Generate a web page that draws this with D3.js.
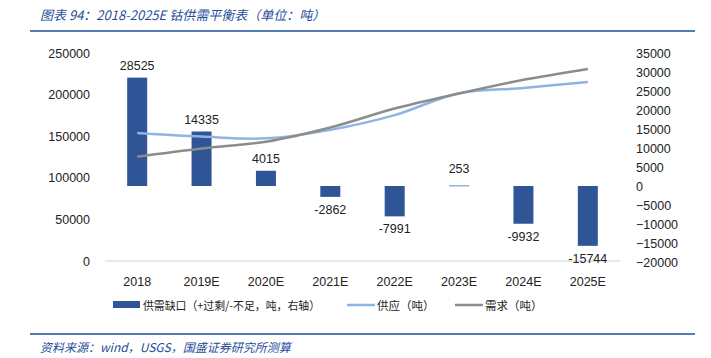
<!DOCTYPE html>
<html><head><meta charset="utf-8">
<script src="https://cdn.jsdelivr.net/npm/d3@7"></script>
<style>body{margin:0;background:#fff;} svg{display:block;}</style>
</head><body>
<svg id="c" width="711" height="358"></svg>
<script>
const categories = ["2018","2019E","2020E","2021E","2022E","2023E","2024E","2025E"];
const gapValues = [28525,14335,4015,-2862,-7991,253,-9932,-15744];
const supplyValues = [153800,149500,147400,157600,175300,201600,207900,215200];
const demandValues = [125300,135200,143400,160500,183300,201400,217800,230900];
const leftTicks = [0,50000,100000,150000,200000,250000];
const rightTicks = [-20000,-15000,-10000,-5000,0,5000,10000,15000,20000,25000,30000,35000];
const titleText = "图表 94：2018-2025E 钴供需平衡表（单位：吨）";
const sourceText = "资料来源：wind，USGS，国盛证券研究所测算";
const legendLabels = ["供需缺口（+过剩/-不足，吨，右轴）","供应（吨）","需求（吨）"];

const svg = d3.select("#c");
const font = "'Liberation Sans', Arial, 'Noto Sans CJK SC', sans-serif";
const cjk = "'Noto Sans CJK SC', sans-serif";
const blue = "#2F5597", light = "#8FB4E3", gray = "#8C8C8C", dark="#1F4E99";

const x0 = 105, x1 = 620, yTop = 53, yBot = 261;
const x = d3.scaleBand().domain(categories).range([x0,x1]);
const yL = d3.scaleLinear().domain([0,250000]).range([yBot,yTop]);
const yR = d3.scaleLinear().domain([-20000,35000]).range([yBot+1,yTop]);

// title
svg.append("text").attr("x",40).attr("y",20).attr("fill",dark)
  .attr("font-family",cjk).attr("font-size",13).attr("font-style","italic")
  .text(titleText);
svg.append("line").attr("x1",30).attr("x2",695).attr("y1",31).attr("y2",31).attr("stroke",dark).attr("stroke-width",1.5);
svg.append("line").attr("x1",30).attr("x2",695).attr("y1",334).attr("y2",334).attr("stroke",dark).attr("stroke-width",1.5);
svg.append("text").attr("x",40).attr("y",352).attr("fill",dark)
  .attr("font-family",cjk).attr("font-size",12).attr("font-style","italic").text(sourceText);

// left axis
const gl = svg.append("g").attr("transform",`translate(${x0-12},0)`)
  .call(d3.axisLeft(yL).tickValues(leftTicks).tickSize(0).tickFormat(d3.format("d")));
gl.select(".domain").remove();
gl.selectAll("text").attr("font-family",font).attr("font-size",12.5).attr("fill","#222").attr("dx",0);

// right axis
const gr = svg.append("g").attr("transform",`translate(${x1+16},0)`)
  .call(d3.axisRight(yR).tickValues(rightTicks).tickSize(0).tickFormat(d3.format("d")));
gr.select(".domain").remove();
gr.selectAll("text").attr("font-family",font).attr("font-size",12.5).attr("fill","#222").attr("x",0);

// bars
const bw = 20;
svg.append("g").selectAll("rect").data(gapValues).join("rect")
  .attr("x",(d,i)=>x(categories[i])+x.bandwidth()/2-bw/2)
  .attr("width",bw)
  .attr("y",d=>Math.min(yR(d),yR(0)))
  .attr("height",d=>Math.max(1.5,Math.abs(yR(d)-yR(0))))
  .attr("fill",(d,i)=> i===5 ? light : blue);

// x axis line
svg.append("line").attr("x1",x0).attr("x2",x1).attr("y1",yBot).attr("y2",yBot).attr("stroke","#d0d0d0").attr("stroke-width",1);
svg.append("g").selectAll("text").data(categories).join("text")
  .attr("x",d=>x(d)+x.bandwidth()/2).attr("y",286).attr("text-anchor","middle")
  .attr("font-family",font).attr("font-size",12.5).attr("fill","#222").text(d=>d);

// lines
const line = (vals)=>d3.line().x((d,i)=>x(categories[i])+x.bandwidth()/2).y(d=>yL(d)).curve(d3.curveCatmullRom.alpha(0.5))(vals);
svg.append("path").attr("d",line(supplyValues)).attr("fill","none").attr("stroke",light).attr("stroke-width",2.5);
svg.append("path").attr("d",line(demandValues)).attr("fill","none").attr("stroke",gray).attr("stroke-width",2.5);

// bar labels
svg.append("g").selectAll("text").data(gapValues).join("text")
  .attr("x",(d,i)=>x(categories[i])+x.bandwidth()/2)
  .attr("y",(d,i)=> d>=0 ? yR(d)-8 - (i===5?4:0) : yR(d)+17)
  .attr("text-anchor","middle").attr("font-family",font).attr("font-size",12.5).attr("fill","#222")
  .text(d=>d);

// legend
const ly = 305;
svg.append("rect").attr("x",113).attr("y",ly-4).attr("width",27).attr("height",7).attr("fill",blue);
svg.append("text").attr("x",143).attr("y",ly+5).attr("font-family",cjk).attr("font-size",11.5).attr("fill","#222")
  .attr("textLength",177).attr("lengthAdjust","spacingAndGlyphs").text(legendLabels[0]);
svg.append("line").attr("x1",347).attr("x2",375).attr("y1",ly).attr("y2",ly).attr("stroke",light).attr("stroke-width",2.5);
svg.append("text").attr("x",377).attr("y",ly+5).attr("font-family",cjk).attr("font-size",11.5).attr("fill","#222").text(legendLabels[1]);
svg.append("line").attr("x1",455).attr("x2",483).attr("y1",ly).attr("y2",ly).attr("stroke",gray).attr("stroke-width",2.5);
svg.append("text").attr("x",485).attr("y",ly+5).attr("font-family",cjk).attr("font-size",11.5).attr("fill","#222").text(legendLabels[2]);
</script>
</body></html>
